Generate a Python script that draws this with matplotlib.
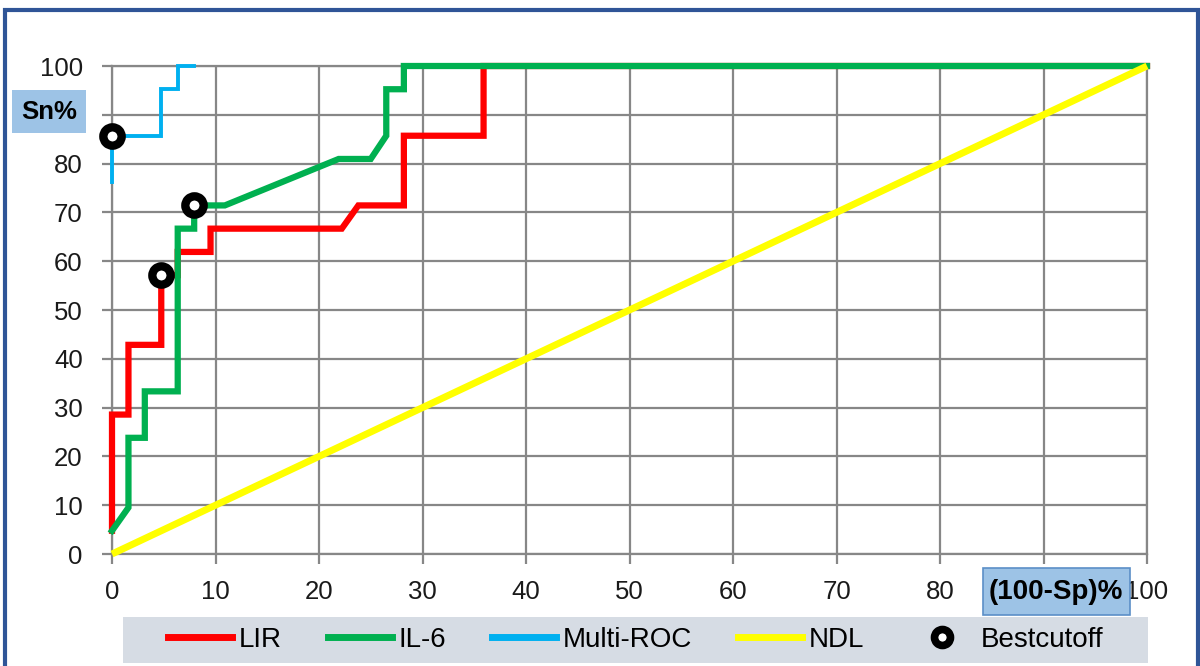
#!/usr/bin/env python3
"""ROC curves for LIR, IL-6 and the combined model, with best cut-off points."""

import matplotlib

matplotlib.use("Agg")
import matplotlib.pyplot as plt
from matplotlib.lines import Line2D
from matplotlib.patches import Rectangle

plt.rcParams["font.family"] = ["Liberation Sans", "DejaVu Sans"]

# (100 - Sp)% and Sn% step points
lir_x = [0, 0, 1.59, 1.59, 4.76, 4.76, 6.35, 6.35, 9.52, 9.52, 22.2, 23.8, 28.2, 28.2, 35.9, 35.9, 100]
lir_y = [4.76, 28.57, 28.57, 42.86, 42.86, 57.14, 57.14, 61.9, 61.9, 66.67, 66.67, 71.43, 71.43, 85.71, 85.71, 100, 100]

il6_x = [0, 1.59, 1.59, 3.17, 3.17, 6.35, 6.35, 7.94, 7.94, 10.9, 21.9, 25.0, 26.5, 26.5, 28.2, 28.2, 100]
il6_y = [4.76, 9.52, 23.81, 23.81, 33.33, 33.33, 66.67, 66.67, 71.43, 71.43, 80.95, 80.95, 85.71, 95.24, 95.24, 100, 100]

multi_x = [0, 0, 4.76, 4.76, 6.35, 6.35, 7.94]
multi_y = [76.19, 85.71, 85.71, 95.24, 95.24, 100, 100]

ndl_x = [0, 100]
ndl_y = [0, 100]

cutoff_x = [0, 4.76, 7.94]
cutoff_y = [85.71, 57.14, 71.43]

ticks = list(range(0, 101, 10))

W, H = 1200, 666


def px_x(v):
    return v / W


def px_y(v):
    return 1 - v / H


def main():
    fig = plt.figure(figsize=(W / 100, H / 100), dpi=100)
    ax = fig.add_axes([px_x(112), px_y(554), (1147 - 112) / W, (554 - 66) / H])

    grid_col = "#878787"
    ax.set_xlim(0, 100)
    ax.set_ylim(0, 100)
    ax.set_xticks(ticks)
    ax.set_yticks(ticks)
    ax.grid(True, color=grid_col, linewidth=1.6)
    ax.set_axisbelow(True)
    for sp in ax.spines.values():
        sp.set_color(grid_col)
        sp.set_linewidth(1.6)
    ax.tick_params(axis="both", colors=grid_col, length=7, width=1.6, labelsize=18.5,
                   labelcolor="#1a1a1a")
    ax.tick_params(axis="x", pad=12)
    ax.tick_params(axis="y", pad=14)

    styles = dict(solid_joinstyle="miter", clip_on=False)
    ax.plot(lir_x, lir_y, color="#FF0000", lw=4.5, zorder=3, **styles)
    ax.plot(il6_x, il6_y, color="#00B050", lw=4.5, zorder=4, **styles)
    ax.plot(multi_x, multi_y, color="#00B0F0", lw=2.8, zorder=5, **styles)
    ax.plot(ndl_x, ndl_y, color="#FFFF00", lw=5.0, zorder=6, solid_capstyle="butt", clip_on=False)
    ax.plot(cutoff_x, cutoff_y, ls="none", marker="o", ms=13.2, mfc="white", mec="black",
            mew=6.0, zorder=7, clip_on=False)

    # blue outer frame (runs off the right and bottom of the picture)
    fig.patches.append(Rectangle((px_x(5), -0.2), (1198 - 5) / W, px_y(10) + 0.2,
                                 transform=fig.transFigure, fill=False,
                                 edgecolor="#2F5597", linewidth=3.0, zorder=0))

    # axis title boxes
    fig.patches.append(Rectangle((px_x(12), px_y(133)), (86 - 12) / W, (133 - 90) / H,
                                 transform=fig.transFigure, facecolor="#9DC3E6",
                                 edgecolor="none", zorder=8))
    fig.text(px_x(49), px_y(112), "Sn%", fontsize=18.5, fontweight="bold",
             ha="center", va="center", zorder=9)
    fig.patches.append(Rectangle((px_x(983), px_y(615)), (1130 - 983) / W, (615 - 568) / H,
                                 transform=fig.transFigure, facecolor="#9DC3E6",
                                 edgecolor="#5B8FC7", linewidth=1.2, zorder=8))
    fig.text(px_x(1056), px_y(592), "(100-Sp)%", fontsize=20, fontweight="bold",
             ha="center", va="center", zorder=9)

    # legend strip
    fig.patches.append(Rectangle((px_x(123), px_y(663)), (1148 - 123) / W, (663 - 617) / H,
                                 transform=fig.transFigure, facecolor="#D6DCE4",
                                 edgecolor="none", zorder=0))
    handles = [
        Line2D([], [], color="#FF0000", lw=5),
        Line2D([], [], color="#00B050", lw=5),
        Line2D([], [], color="#00B0F0", lw=5),
        Line2D([], [], color="#FFFF00", lw=5),
        Line2D([], [], ls="none", marker="o", ms=11.5, mfc="white", mec="black", mew=5.5),
    ]
    labels = ["LIR", "IL-6", "Multi-ROC", "NDL", "Bestcutoff"]
    fig.legend(handles, labels, loc="center", bbox_to_anchor=(px_x(636), px_y(640)),
               ncol=5, frameon=False, fontsize=20, handlelength=2.3,
               handletextpad=0.25, columnspacing=1.65, borderpad=0, borderaxespad=0)

    fig.savefig("out.png", dpi=100)
    plt.close(fig)


if __name__ == "__main__":
    main()
